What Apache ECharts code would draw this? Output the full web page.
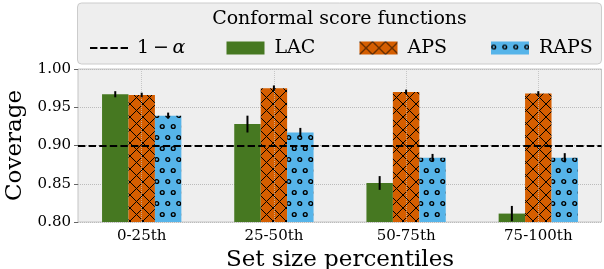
<!DOCTYPE html>
<html>
<head>
<meta charset="utf-8">
<script src="https://cdn.jsdelivr.net/npm/echarts@6/dist/echarts.min.js"></script>
<style>
  html, body { margin: 0; padding: 0; background: #fff; }
  #box1 { width: 604px; height: 269px; }
</style>
</head>
<body>
<div id="box1"></div>
<script>
var myChart = echarts.init(document.getElementById('box1'))

// data
let categories = ['0-25th', '25-50th', '50-75th', '75-100th'];
let lacValues = [0.967, 0.928, 0.851, 0.811];
let lacErrors = [0.004, 0.011, 0.009, 0.010];
let apsValues = [0.966, 0.975, 0.970, 0.968];
let apsErrors = [0.003, 0.0035, 0.003, 0.003];
let rapsValues = [0.939, 0.917, 0.884, 0.884];
let rapsErrors = [0.004, 0.006, 0.005, 0.006];
let alphaLine = 0.9;
let yMin = 0.8, yMax = 1.0, yStep = 0.05;

let serif = 'DejaVu Serif';

function crossHatch(bg) {
    var c = document.createElement('canvas');
    c.width = 13; c.height = 13;
    var ctx = c.getContext('2d');
    ctx.fillStyle = bg;
    ctx.fillRect(0, 0, 13, 13);
    ctx.strokeStyle = '#000';
    ctx.lineWidth = 1;
    ctx.beginPath();
    ctx.moveTo(0, 0); ctx.lineTo(13, 13);
    ctx.moveTo(13, 0); ctx.lineTo(0, 13);
    ctx.stroke();
    return c;
}

function dotHatch(bg) {
    var c = document.createElement('canvas');
    c.width = 11; c.height = 22;
    var ctx = c.getContext('2d');
    ctx.fillStyle = bg;
    ctx.fillRect(0, 0, 11, 22);
    ctx.strokeStyle = '#000';
    ctx.lineWidth = 1.4;
    [[2.75, 5.5], [8.25, 16.5]].forEach(function (p) {
        ctx.beginPath();
        ctx.arc(p[0], p[1], 1.9, 0, Math.PI * 2);
        ctx.stroke();
    });
    return c;
}

let lacColor = '#467821';
let apsColor = { image: crossHatch('#D55E00'), repeat: 'repeat' };
let rapsColor = { image: dotHatch('#56B4E9'), repeat: 'repeat' };

function errSeries(vals, errs, slot) {
    return {
        type: 'custom',
        xAxisIndex: 1,
        yAxisIndex: 1,
        z: 5,
        silent: true,
        data: vals.map(function (v, i) { return [i, v, errs[i]]; }),
        renderItem: function (params, api) {
            var band = api.size([1, 0])[0];
            var off = slot * band * 0.2;
            var top = api.coord([api.value(0), api.value(1) + api.value(2)]);
            var bot = api.coord([api.value(0), api.value(1) - api.value(2)]);
            return {
                type: 'line',
                shape: { x1: top[0] + off, y1: top[1], x2: bot[0] + off, y2: bot[1] },
                style: { stroke: '#000', lineWidth: 2 }
            };
        }
    };
}

function barSeries(name, vals, color) {
    return {
        name: name,
        type: 'bar',
        xAxisIndex: 1,
        yAxisIndex: 1,
        data: vals,
        barWidth: '20%',
        barGap: '0%',
        itemStyle: { color: color }
    };
}

function oneLegend(name, left, icon, h, pad) {
    return {
        data: [{ name: name, icon: icon }],
        left: left,
        top: 33.5,
        itemWidth: 38,
        itemHeight: h,
        selectedMode: false,
        formatter: function (n) { return n === '1−α' ? '1\u2009−\u2009{a|α}' : n; },
        textStyle: {
            fontFamily: serif, fontSize: 19, color: '#000', padding: [0, 0, 0, pad],
            rich: { a: { fontFamily: serif, fontSize: 19, fontStyle: 'italic', color: '#000' } }
        }
    };
}

let dashIcon = 'path://M0,0h7.4v2h-7.4z M10.2,0h7.4v2h-7.4z M20.4,0h7.4v2h-7.4z M30.6,0h7.4v2h-7.4z';
let gridLine = { color: '#BBBBBB', type: 'dotted', width: 1 };

option = {
    animation: false,
    backgroundColor: '#fff',
    graphic: [
        {
            type: 'rect',
            x: 77.5, y: 3,
            shape: { width: 524, height: 61, r: 4 },
            style: { fill: '#EEEEEE', stroke: '#CCCCCC', lineWidth: 1 },
            z: -1
        },
        {
            type: 'text',
            x: 339.5, y: 19,
            style: {
                text: 'Conformal score functions', font: '19px "DejaVu Serif"', fill: '#000',
                align: 'center', verticalAlign: 'middle'
            }
        }
    ],
    legend: [
        oneLegend('1−α', 85, dashIcon, 2, 4),
        oneLegend('LAC', 221.5, 'rect', 13, 5),
        oneLegend('APS', 354.5, 'rect', 13, 5),
        oneLegend('RAPS', 486, 'rect', 13, 5)
    ],
    grid: [
        {
            // frame, y axis, threshold line
            left: 78,
            right: 2.5,
            top: 69,
            bottom: 47,
            outerBoundsMode: 'none',
            show: true,
            backgroundColor: '#EEEEEE',
            borderColor: '#C4C4C4',
            borderWidth: 1
        },
        {
            // bars: matplotlib puts the bar groups a bit wider than the frame
            left: 75.6,
            right: -0.4,
            top: 69,
            bottom: 47,
            outerBoundsMode: 'none'
        }
    ],
    xAxis: [
        {
            type: 'value',
            gridIndex: 0,
            min: 0,
            max: 1,
            show: false
        },
        {
            type: 'category',
            gridIndex: 1,
            z: 4,
            data: categories,
            name: 'Set size percentiles',
            nameLocation: 'middle',
            nameGap: 27,
            nameTextStyle: { fontFamily: serif, fontSize: 23, color: '#000' },
            axisLine: { show: false },
            axisTick: { show: false },
            axisLabel: { fontFamily: serif, fontSize: 15, color: '#000', margin: 7 },
            splitLine: { show: true, alignWithLabel: true, lineStyle: { color: '#BBBBBB', type: 'dotted', width: 1, opacity: 0.8 } }
        }
    ],
    yAxis: [
        {
            type: 'value',
            gridIndex: 0,
            min: yMin,
            max: yMax,
            interval: yStep,
            name: 'Coverage',
            nameLocation: 'middle',
            nameGap: 44,
            nameTextStyle: { fontFamily: serif, fontSize: 23, color: '#000' },
            axisLine: { show: false },
            axisTick: { show: true, length: 4, lineStyle: { color: '#666' } },
            axisLabel: {
                fontFamily: serif, fontSize: 15, color: '#000', margin: 7,
                formatter: function (v) { return v.toFixed(2); }
            },
            splitLine: { show: true, lineStyle: gridLine }
        },
        {
            type: 'value',
            gridIndex: 1,
            min: yMin,
            max: yMax,
            interval: yStep,
            show: false
        }
    ],
    series: [
        {
            name: '1−α',
            type: 'line',
            data: [],
            symbol: 'none',
            itemStyle: { color: '#000' },
            lineStyle: { color: '#000', width: 2 },
            markLine: {
                silent: true,
                symbol: 'none',
                label: { show: false },
                lineStyle: { color: '#000', type: [7.4, 3.2], width: 2 },
                data: [{ yAxis: alphaLine }]
            },
            z: 6
        },
        barSeries('LAC', lacValues, lacColor),
        barSeries('APS', apsValues, apsColor),
        barSeries('RAPS', rapsValues, rapsColor),
        errSeries(lacValues, lacErrors, -1),
        errSeries(apsValues, apsErrors, 0),
        errSeries(rapsValues, rapsErrors, 1)
    ]
};
myChart.setOption(option);
</script>
</body>
</html>
